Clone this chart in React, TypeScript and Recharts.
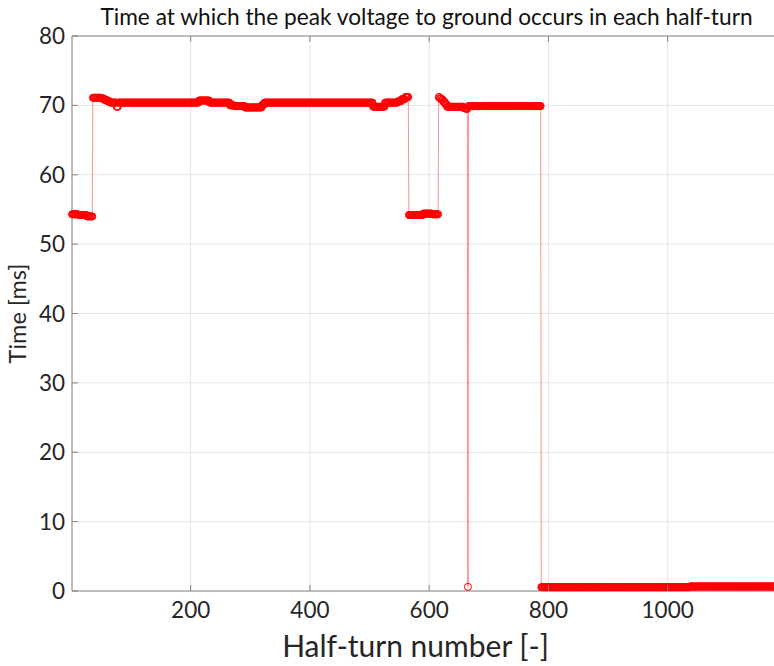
import React from "react";
import {
  LineChart,
  Line,
  XAxis,
  YAxis,
  CartesianGrid,
  Label,
} from "recharts";

// values, as constant runs: each run starts at runStart[i]
// and lasts until the next run starts (the last one lasts until lastHalfTurn)
const runStart = [
  1, 12, 26, 36, 50, 55, 60, 65, 76, 79, 214, 232, 266, 274, 291, 320, 324,
  506, 526, 548, 554, 560, 566, 590, 605, 616, 618, 621, 624, 627, 630, 658,
  662, 665, 666, 788, 1037,
];
const runValue = [
  54.3, 54.2, 54.0, 71.1, 71.0, 70.8, 70.6, 70.4, 69.8, 70.4, 70.7, 70.4, 70.0,
  69.9, 69.7, 70.1, 70.4, 69.8, 70.4, 70.6, 70.9, 71.2, 54.2, 54.4, 54.3, 71.2,
  71.0, 70.8, 70.5, 70.2, 69.8, 69.6, 69.5, 0.6, 69.9, 0.55, 0.65,
];
const lastHalfTurn = 1180;

const xTicks = [200, 400, 600, 800, 1000];
const yTicks = [0, 10, 20, 30, 40, 50, 60, 70, 80];

const data: { n: number; t: number }[] = [];
runStart.forEach((start, i) => {
  const end = i < runStart.length - 1 ? runStart[i + 1] - 1 : lastHalfTurn;
  for (let n = start; n <= end; n++) data.push({ n, t: runValue[i] });
});

const FONT = "Lato, 'Open Sans', sans-serif";
const AXIS = "#868686";
const TEXT = "#262626";

function BottomTick({ x, y, payload }: any) {
  return (
    <g>
      <line x1={x} x2={x} y1={y} y2={y - 6} stroke={AXIS} />
      <text x={x} y={y + 27} textAnchor="middle" fill={TEXT} fontSize={22.5} fontFamily={FONT}>
        {payload.value}
      </text>
    </g>
  );
}

function TopTick({ x, y }: any) {
  return <line x1={x} x2={x} y1={y} y2={y + 6} stroke={AXIS} />;
}

function LeftTick({ x, y, payload }: any) {
  return (
    <g>
      <line x1={x} x2={x + 6} y1={y} y2={y} stroke={AXIS} />
      <text x={x - 7} y={y} dy="0.36em" textAnchor="end" fill={TEXT} fontSize={22.5} fontFamily={FONT}>
        {payload.value}
      </text>
    </g>
  );
}

export default function App() {
  return (
    <div
      style={{
        position: "absolute",
        left: 0,
        top: 0,
        width: 774,
        height: 666,
        overflow: "hidden",
        background: "#fff",
      }}
    >
      <LineChart
        width={790}
        height={666}
        data={data}
        margin={{ top: 6, right: 15, left: 0, bottom: 0 }}
      >
        <CartesianGrid xAxisId="b" stroke="#e4e4e4" />
        <XAxis
          xAxisId="b"
          dataKey="n"
          type="number"
          domain={[1, lastHalfTurn]}
          ticks={xTicks}
          height={75}
          tickSize={0}
          tickMargin={0}
          tickLine={false}
          axisLine={{ stroke: AXIS }}
          tick={<BottomTick />}
          interval={0}
        >
          <Label
            content={({ viewBox }: any) => (
              <text
                x={viewBox.x + viewBox.width / 2 - 8}
                y={viewBox.y + 66}
                textAnchor="middle"
                fill={TEXT}
                fontSize={30}
                fontFamily={FONT}
              >
                Half-turn number [-]
              </text>
            )}
          />
        </XAxis>
        <XAxis
          xAxisId="t"
          dataKey="n"
          type="number"
          orientation="top"
          domain={[1, lastHalfTurn]}
          ticks={xTicks}
          height={30}
          tickSize={0}
          tickMargin={0}
          tickLine={false}
          axisLine={{ stroke: AXIS }}
          tick={<TopTick />}
          interval={0}
        >
          <Label
            content={({ viewBox }: any) => (
              <text
                x={viewBox.x + viewBox.width / 2 + 3}
                y={25}
                textAnchor="middle"
                fill="#111"
                fontSize={22.7}
                fontFamily={FONT}
              >
                Time at which the peak voltage to ground occurs in each half-turn
              </text>
            )}
          />
        </XAxis>
        <YAxis
          type="number"
          domain={[0, 80]}
          ticks={yTicks}
          width={72}
          tickSize={0}
          tickMargin={0}
          tickLine={false}
          axisLine={{ stroke: AXIS }}
          tick={<LeftTick />}
          interval={0}
        >
          <Label
            content={({ viewBox }: any) => {
              const cy = viewBox.y + viewBox.height / 2;
              return (
                <text
                  x={26}
                  y={cy}
                  transform={`rotate(-90 26 ${cy})`}
                  textAnchor="middle"
                  fill={TEXT}
                  fontSize={23.5}
                  fontFamily={FONT}
                >
                  Time [ms]
                </text>
              );
            }}
          />
        </YAxis>
        <Line
          xAxisId="b"
          dataKey="t"
          type="linear"
          stroke="#ff0000"
          strokeWidth={0.8}
          strokeOpacity={0.55}
          dot={{ r: 3.5, stroke: "#ff0000", strokeOpacity: 1, strokeWidth: 1, fill: "none" }}
          activeDot={false}
          isAnimationActive={false}
        />
      </LineChart>
    </div>
  );
}
